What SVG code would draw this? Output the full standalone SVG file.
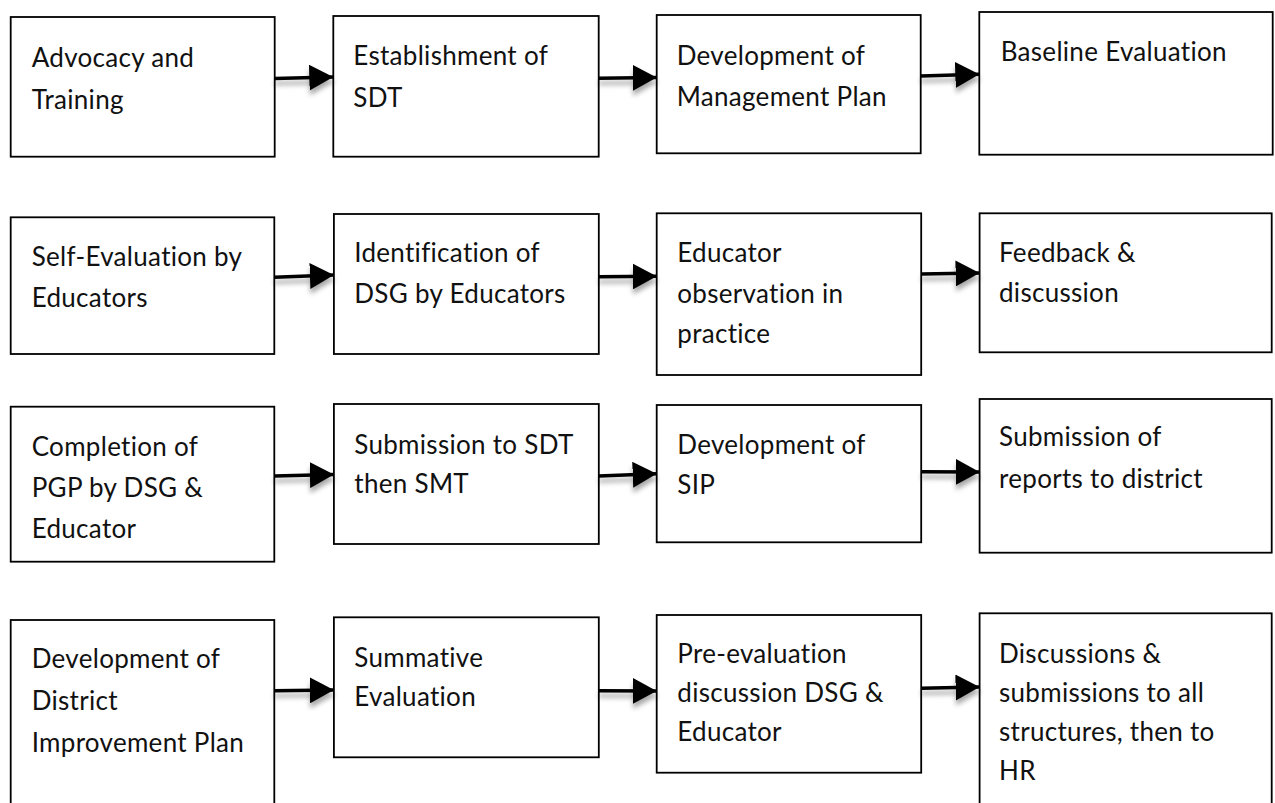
<svg xmlns="http://www.w3.org/2000/svg" width="1275" height="803" viewBox="0 0 1275 803">
<defs>
<style>
.box{fill:#fff;stroke:#000;stroke-width:1.8}
.lbl{font-family:Lato,"Open Sans","Liberation Sans",sans-serif;font-size:26px;letter-spacing:0.3px;fill:#111}
.con{fill:none;stroke:#000;stroke-width:3.6;marker-end:url(#ah)}
</style>
<marker id="ah" viewBox="0 0 24 26" refX="24" refY="13" markerWidth="24" markerHeight="26" markerUnits="userSpaceOnUse" orient="auto">
<path d="M0 0 L24 13 L0 26 Z" fill="#000"/>
</marker>
<filter id="sh" x="-20%" y="-50%" width="140%" height="220%">
<feDropShadow dx="0" dy="5" stdDeviation="2.5" flood-color="#000" flood-opacity="0.35"/>
</filter>
</defs>
<rect width="1275" height="803" fill="#fff"/>

<g id="n1"><rect class="box" x="10.7" y="17" width="264" height="139.7"/>
<text class="lbl" x="31.7" y="66.7">Advocacy and</text><text class="lbl" x="31.7" y="109">Training</text></g>
<g id="n2"><rect class="box" x="333.3" y="16" width="265.4" height="140.7"/>
<text class="lbl" x="353.3" y="65">Establishment of</text><text class="lbl" x="353.3" y="107">SDT</text></g>
<g id="n3"><rect class="box" x="656.7" y="15" width="264" height="138.3"/>
<text class="lbl" x="676.7" y="64.5">Development of</text><text class="lbl" x="676.7" y="106">Management Plan</text></g>
<g id="n4"><rect class="box" x="979.3" y="12" width="293.4" height="142.7"/>
<text class="lbl" x="1000.7" y="60.7">Baseline Evaluation</text></g>

<g id="n5"><rect class="box" x="10.7" y="217.3" width="263.6" height="136.7"/>
<text class="lbl" x="31.7" y="265.5">Self-Evaluation by</text><text class="lbl" x="31.7" y="306.7">Educators</text></g>
<g id="n6"><rect class="box" x="333.9" y="214" width="264.9" height="140"/>
<text class="lbl" x="354.3" y="261.7">Identification of</text><text class="lbl" x="354.3" y="303.3">DSG by Educators</text></g>
<g id="n7"><rect class="box" x="656.7" y="213.3" width="264.5" height="161.7"/>
<text class="lbl" x="677.3" y="261.7">Educator</text><text class="lbl" x="677.3" y="302.7">observation in</text><text class="lbl" x="677.3" y="343.3">practice</text></g>
<g id="n8"><rect class="box" x="979.6" y="213.3" width="292.1" height="139"/>
<text class="lbl" x="999" y="261.7">Feedback &amp;</text><text class="lbl" x="999" y="301.7">discussion</text></g>

<g id="n9"><rect class="box" x="10.7" y="406.7" width="263.6" height="155"/>
<text class="lbl" x="31.7" y="455.7">Completion of</text><text class="lbl" x="31.7" y="496.7">PGP by DSG &amp;</text><text class="lbl" x="31.7" y="537.7">Educator</text></g>
<g id="n10"><rect class="box" x="333.9" y="404" width="264.9" height="140"/>
<text class="lbl" x="354.3" y="454">Submission to SDT</text><text class="lbl" x="354.3" y="493">then SMT</text></g>
<g id="n11"><rect class="box" x="656.7" y="405" width="264.5" height="137.3"/>
<text class="lbl" x="677.3" y="454">Development of</text><text class="lbl" x="677.3" y="494">SIP</text></g>
<g id="n12"><rect class="box" x="979.6" y="399" width="292.1" height="153.7"/>
<text class="lbl" x="999" y="446">Submission of</text><text class="lbl" x="999" y="488.3">reports to district</text></g>

<g id="n13"><rect class="box" x="10.7" y="620" width="263.6" height="200"/>
<text class="lbl" x="31.7" y="668.3">Development of</text><text class="lbl" x="31.7" y="710">District</text><text class="lbl" x="31.7" y="751.7">Improvement Plan</text></g>
<g id="n14"><rect class="box" x="333.9" y="617.3" width="264.9" height="140"/>
<text class="lbl" x="354.3" y="666.7">Summative</text><text class="lbl" x="354.3" y="706">Evaluation</text></g>
<g id="n15"><rect class="box" x="656.7" y="615" width="264.5" height="157.7"/>
<text class="lbl" x="677.3" y="662.7">Pre-evaluation</text><text class="lbl" x="677.3" y="701.7">discussion DSG &amp;</text><text class="lbl" x="677.3" y="740.7">Educator</text></g>
<g id="n16"><rect class="box" x="979.6" y="613.3" width="292.1" height="210"/>
<text class="lbl" x="999" y="662.7">Discussions &amp;</text><text class="lbl" x="999" y="701.7">submissions to all</text><text class="lbl" x="999" y="740.7">structures, then to</text><text class="lbl" x="999" y="780">HR</text></g>

<g id="connectors" filter="url(#sh)">
<path class="con" d="M274.7 78.5 L333.3 77"/>
<path class="con" d="M598.7 78.3 L656.7 77.5"/>
<path class="con" d="M920.7 76 L979.3 74.2"/>
<path class="con" d="M274.3 277.3 L333.9 275"/>
<path class="con" d="M598.8 276.7 L656.7 276.3"/>
<path class="con" d="M921.2 274 L979.6 273"/>
<path class="con" d="M274.3 476 L333.9 474.5"/>
<path class="con" d="M598.8 476 L656.7 473.7"/>
<path class="con" d="M921.2 471.7 L979.6 472"/>
<path class="con" d="M274.3 690.7 L333.9 690"/>
<path class="con" d="M598.8 690.7 L656.7 691"/>
<path class="con" d="M921.2 688.3 L979.6 687"/>
</g>
</svg>
